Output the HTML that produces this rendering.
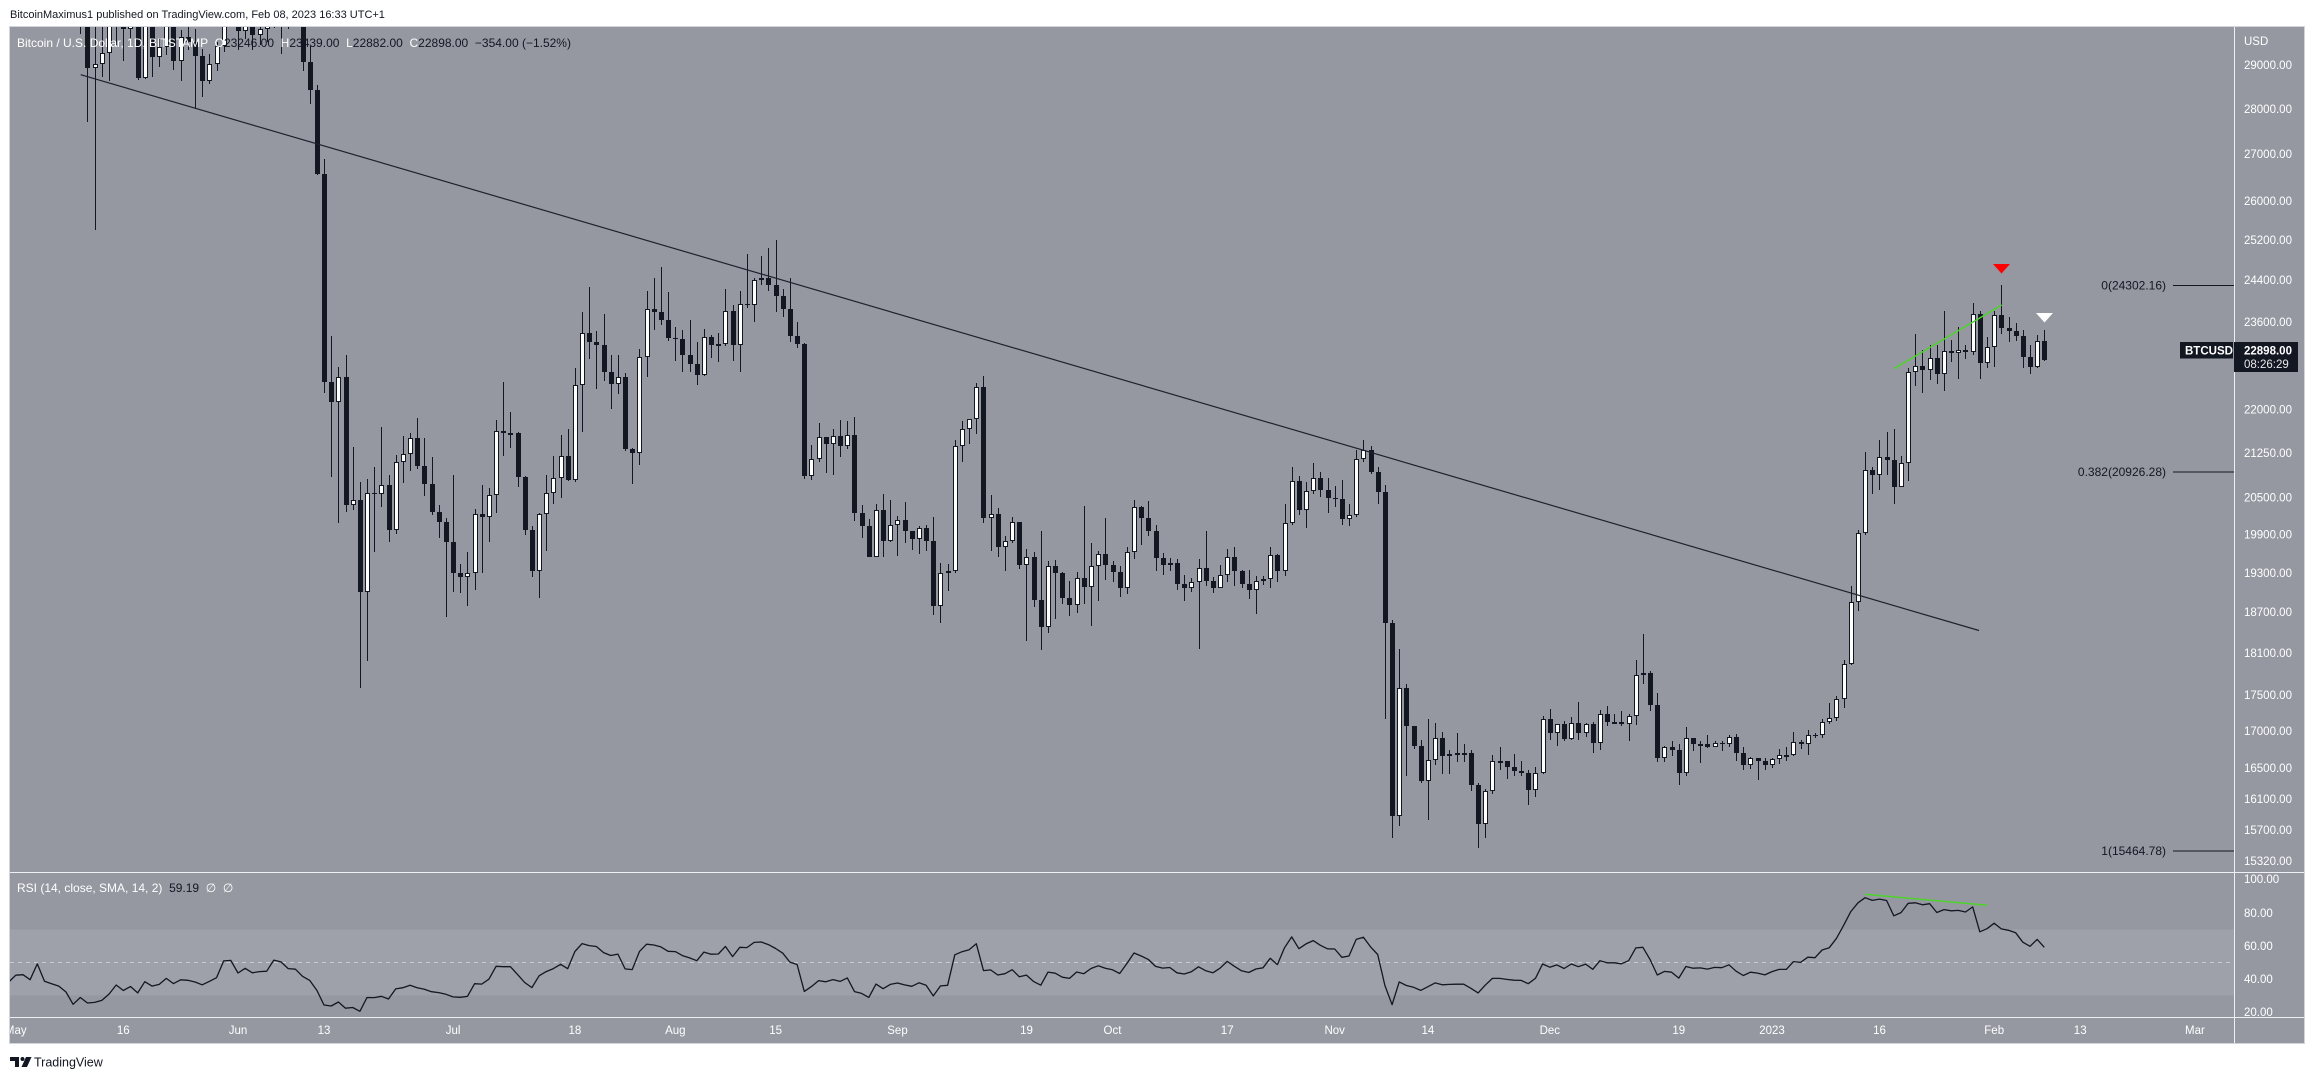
<!DOCTYPE html>
<html><head><meta charset="utf-8">
<style>
html,body{margin:0;padding:0;background:#fff;width:2314px;height:1079px;overflow:hidden;}
svg{position:absolute;left:0;top:0;font-family:"Liberation Sans",sans-serif;}
</style></head>
<body>
<svg id="s" width="2314" height="1079" viewBox="0 0 2314 1079" xmlns="http://www.w3.org/2000/svg">
<defs>
<clipPath id="cp1"><rect x="10" y="27" width="2224" height="845"/></clipPath>
<clipPath id="cp2"><rect x="10" y="873" width="2224" height="144"/></clipPath>
<clipPath id="cp3"><rect x="10" y="1018" width="2224" height="25"/></clipPath>
<clipPath id="cp4"><rect x="2235" y="873" width="69" height="144"/></clipPath>
</defs>
<text x="10" y="18" font-size="11" fill="#131722">BitcoinMaximus1 published on TradingView.com, Feb 08, 2023 16:33 UTC+1</text>
<rect x="9.5" y="26.5" width="2295" height="1017" fill="#9598a1" stroke="#d1d4dc"/>
<rect x="10" y="929.5" width="2224" height="66" fill="#9ea1a9"/>
<line x1="10" y1="962.5" x2="2234" y2="962.5" stroke="#c9cbd1" stroke-dasharray="4 4"/>
<g id="cd" clip-path="url(#cp1)" shape-rendering="crispEdges"></g>
<g clip-path="url(#cp1)">
<line x1="80.7" y1="74.7" x2="1979" y2="630.5" stroke="#1e222d" stroke-width="1.2"/>
<line x1="1894" y1="368.7" x2="2001.7" y2="305" stroke="#4cd42a" stroke-width="1.5"/>
<polygon points="1993,264 2010,264 2001.5,273.5" fill="#ff0000"/>
<polygon points="2036,313 2053,313 2044.5,322.5" fill="#ffffff"/>
<line x1="2173" y1="285.5" x2="2234" y2="285.5" stroke="#131722" stroke-width="1"/>
<line x1="2173" y1="472" x2="2234" y2="472" stroke="#131722" stroke-width="1"/>
<line x1="2173" y1="851" x2="2234" y2="851" stroke="#131722" stroke-width="1"/>
</g>
<text x="2166" y="289.5" font-size="12" fill="#131722" text-anchor="end">0(24302.16)</text>
<text x="2166" y="476" font-size="12" fill="#131722" text-anchor="end">0.382(20926.28)</text>
<text x="2166" y="855" font-size="12" fill="#131722" text-anchor="end">1(15464.78)</text>
<g clip-path="url(#cp2)">
<polyline id="rsi" fill="none" stroke="#131722" stroke-width="1.3" stroke-linejoin="round" points=""/>
<line x1="1865" y1="894.3" x2="1987.3" y2="905.3" stroke="#4cd42a" stroke-width="1.5"/>
</g>
<line x1="10" y1="872.5" x2="2304" y2="872.5" stroke="#eef0f3"/>
<line x1="10" y1="1017.5" x2="2304" y2="1017.5" stroke="#eef0f3"/>
<line x1="2234.5" y1="27" x2="2234.5" y2="1043" stroke="#eef0f3"/>
<text x="17" y="47" font-size="12" fill="#ffffff" xml:space="preserve">Bitcoin / U.S. Dollar, 1D, BITSTAMP  O<tspan fill="#131722">23246.00</tspan>  H<tspan fill="#131722">23439.00</tspan>  L<tspan fill="#131722">22882.00</tspan>  C<tspan fill="#131722">22898.00</tspan>  <tspan fill="#131722">−354.00 (−1.52%)</tspan></text>
<text x="17" y="892" font-size="12" fill="#ffffff" xml:space="preserve">RSI (14, close, SMA, 14, 2)  <tspan fill="#131722">59.19</tspan>  ∅  ∅</text>
<g font-size="11.5" fill="#ffffff">
<text x="2244" y="45">USD</text>
<text x="2244" y="69">29000.00</text>
<text x="2244" y="113">28000.00</text>
<text x="2244" y="158">27000.00</text>
<text x="2244" y="205">26000.00</text>
<text x="2244" y="244">25200.00</text>
<text x="2244" y="284">24400.00</text>
<text x="2244" y="326">23600.00</text>
<text x="2244" y="413.5">22000.00</text>
<text x="2244" y="457">21250.00</text>
<text x="2244" y="501.5">20500.00</text>
<text x="2244" y="538.5">19900.00</text>
<text x="2244" y="577">19300.00</text>
<text x="2244" y="616">18700.00</text>
<text x="2244" y="657">18100.00</text>
<text x="2244" y="699">17500.00</text>
<text x="2244" y="735">17000.00</text>
<text x="2244" y="772">16500.00</text>
<text x="2244" y="803">16100.00</text>
<text x="2244" y="834">15700.00</text>
<text x="2244" y="865">15320.00</text>
</g>
<g font-size="11.5" fill="#ffffff" clip-path="url(#cp4)">
<text x="2244" y="883">100.00</text>
<text x="2244" y="917">80.00</text>
<text x="2244" y="950">60.00</text>
<text x="2244" y="983">40.00</text>
<text x="2244" y="1016">20.00</text>
</g>
<rect x="2180" y="342" width="53" height="16.5" fill="#131722"/>
<text x="2185" y="354.5" font-size="11.5" font-weight="bold" fill="#ffffff">BTCUSD</text>
<rect x="2234" y="342" width="64" height="30" fill="#131722"/>
<text x="2244" y="354.5" font-size="11.5" font-weight="bold" fill="#ffffff">22898.00</text>
<text x="2244" y="368" font-size="11.5" fill="#e6e7ea">08:26:29</text>
<g font-size="11.5" fill="#ffffff" text-anchor="middle" clip-path="url(#cp3)">
<text x="15.8" y="1034">May</text>
<text x="123.3" y="1034">16</text>
<text x="238" y="1034">Jun</text>
<text x="324" y="1034">13</text>
<text x="453.1" y="1034">Jul</text>
<text x="574.9" y="1034">18</text>
<text x="675.3" y="1034">Aug</text>
<text x="775.6" y="1034">15</text>
<text x="897.5" y="1034">Sep</text>
<text x="1026.5" y="1034">19</text>
<text x="1112.5" y="1034">Oct</text>
<text x="1227.2" y="1034">17</text>
<text x="1334.7" y="1034">Nov</text>
<text x="1427.9" y="1034">14</text>
<text x="1549.8" y="1034">Dec</text>
<text x="1678.8" y="1034">19</text>
<text x="1772" y="1034">2023</text>
<text x="1879.5" y="1034">16</text>
<text x="1994.2" y="1034">Feb</text>
<text x="2080.2" y="1034">13</text>
<text x="2194.9" y="1034">Mar</text>
</g>
<g fill="#131722">
<path d="M10 1057h9v10h-4v-6h-5z"/>
<circle cx="22.5" cy="1059" r="2"/>
<path d="M26 1057h5.5l-4.5 10h-5.5z"/>
</g>
<text x="34" y="1066.5" font-size="12.5" fill="#131722">TradingView</text>
</svg>
<script>
(function(){
var NS='http://www.w3.org/2000/svg',DK='#131722';
var pre=[40900,41760,42200,41260,41000,42360,42890,43960,44330,44520,46820,47130,47450,47060,45530,
46280,45810,46410,46580,45500,43170,43440,42250,42750,42160,39530,40080,41150,39940,40550,40400,39700,40800,41500,41370,40480,39710,39470,39450,40430,38110,39240,39740,38600,37640];
var D=[
[38650,37390,38470],[39150,38050,38530],[38640,37510,37720],[39930,37700,39690],[39840,35580,36550],[36640,35260,36010],[36100,34770,35470],[35500,33710,34060],[34250,30030,30080],[32650,29730,31000],
[32180,27700,28940],[30030,25400,29030],[31000,28730,29280],[30330,28620,30080],[31420,29480,31300],[31300,29090,29860],[30780,29460,30410],[30660,28660,28700],[30500,28680,30300],[30750,28730,29190],
[29620,28950,29430],[30470,29240,30300],[30660,28880,29100],[29830,28640,29650],[30200,29340,29540],[29860,28000,29200],[29370,28260,28620],[29250,28560,29020],[29540,28870,29450],[32200,29300,31720],
[32400,31220,31800],
[31970,29340,29800],[30660,29600,30460],[30660,29350,29700],[29970,29480,29860],[30160,29530,29910],[31760,29880,31370],[31550,29250,31130],[31330,29850,30200],[30700,29970,30110],[30350,28860,29080],
[29440,28100,28420],[28550,26560,26580],[26900,22300,22490],[23330,20840,22130],[22760,20080,22580],[22980,20270,20380],[21350,20300,20460],[20760,17590,19000],[20800,17980,20580],[21000,19630,20560],
[21700,20350,20710],[20870,19780,19970],[21210,19910,21090],[21530,20740,21230],[21590,20940,21500],[21850,20980,21030],[21500,20530,20730],[21170,20220,20270],[20380,19850,20100],[20160,18630,19790],
[20870,19000,19300],[19430,18990,19240],[19630,18790,19300],[20320,19040,20230],[20700,19290,20190],[20650,19780,20550],[21820,20250,21630],[22490,21200,21590],[21950,21330,21590],[21600,20670,20840],
[20860,19890,19970],[20040,19230,19330],[20250,18910,20230],[20880,19640,20580],[21190,20400,20830],[21560,20500,21190],[21660,20780,20790],[22750,20760,22430],[23780,21600,23400],[24280,22900,23230],
[23430,22360,23160],[23750,22500,22680],[22980,22000,22450],[22980,22280,22580],[22660,21280,21310],[21330,20720,21250],[23100,21040,22950],[24200,22580,23850],[24450,23450,23790],[24660,23550,23640],
[24180,23240,23300],
[23500,22870,23280],[23450,22680,22990],[23640,22680,22820],[23220,22440,22620],[23470,22590,23310],[23350,22920,23170],[23400,22850,23190],[24240,23150,23800],[23920,22880,23160],[24200,22680,23950],
[24920,23860,23930],[24450,23600,24400],[24880,24300,24440],[25050,24200,24300],[25200,23780,24100],[24230,23690,23850],[24440,23220,23340],[23590,23110,23190],[23200,20800,20850],[21390,20790,21140],
[21770,21100,21520],[21520,20900,21400],[21650,20880,21530],[21810,21180,21370],[21800,21310,21560],[21870,20120,20250],[20380,19850,20040],[20150,19540,19550],[20400,19550,20290],[20560,19550,19800],
[20460,19790,20050],
[20200,19560,20130],[20430,19760,19950],[19960,19660,19830],[20040,19600,20000],[20050,19640,19800],[20180,18650,18790],[19450,18540,19290],[19440,19020,19320],[21470,19300,21360],[21790,21100,21650],
[21840,21400,21830],[22470,21570,22400],[22590,20080,20170],[20540,19640,20230],[20330,19540,19700],[19880,19330,19800],[20180,19760,20110],[20080,19360,19420],[19670,18270,19540],[19630,18770,18880],
[19950,18140,18480],[19480,18390,19400],[19500,18600,19300],[19310,18820,18920],[19180,18640,18800],[19310,18690,19220],[20360,18830,19080],[19760,18490,19410],[19640,18870,19590],[20170,19190,19420],
[19480,19160,19310],[19400,18930,19060],[19710,18970,19620],[20460,19510,20340],[20360,19740,20160],[20440,19870,19960],[20060,19330,19530],[19610,19260,19420],[19530,19330,19450],[19520,19030,19130],
[19260,18870,19060],[19220,19010,19160],[19510,18150,19380],[19950,19100,19180],[19230,18990,19070],[19420,19070,19260],[19670,19160,19550],[19700,19100,19330],[19350,19070,19120],[19350,18900,19040],
[19250,18670,19170],[19250,19110,19210],[19700,19070,19570],[19600,19160,19330],[20400,19250,20090],[21000,20060,20770],[20860,20210,20290],[20750,20000,20600],[21080,20560,20820],[20920,20510,20630],
[20830,20240,20490],
[20690,20340,20480],[20790,20060,20150],[20390,20040,20210],[21300,20180,21150],[21470,21090,21300],[21370,20890,20920],[21000,20400,20590],[20700,17160,18540],[18590,15600,15880],[18150,15750,17590],
[17660,16400,17070],[17070,16760,16800],[16880,16300,16330],[17170,15830,16610],[17110,16540,16900],[16990,16430,16660],[16740,16420,16690],[16970,16580,16700],[16820,16580,16700],[16740,16200,16280],
[16310,15480,15780],[16230,15600,16200],[16670,16160,16600],[16780,16480,16600],[16600,16360,16520],[16690,16400,16460],[16600,16400,16440],[16480,16020,16210],[16520,16120,16440],[17210,16430,17160],
[17300,16880,16970],[17100,16800,17090],[17140,16860,16890],[17190,16880,17110],[17400,16880,16970],[17110,16920,17090],[17130,16700,16840],[17290,16740,17230],[17350,17070,17130],[17230,17090,17130],
[17270,17070,17090],[17240,16870,17210],[18000,17080,17780],[18380,17660,17810],[17840,17280,17360],[17530,16580,16630],[16800,16580,16780],[16870,16660,16740],[16820,16280,16440],[17050,16400,16900],
[16910,16730,16820],[16870,16570,16830],[16950,16770,16780],[16870,16780,16840],[16860,16730,16830],[16940,16790,16920],[16960,16600,16700],[16780,16470,16540],[16650,16490,16630],[16640,16340,16600],
[16640,16480,16540],
[16630,16500,16620],[16760,16550,16670],[16780,16600,16670],[16990,16660,16850],[16880,16760,16830],[17010,16680,16950],[16970,16910,16940],[17170,16910,17120],[17390,17100,17180],[17490,17140,17440],
[18000,17310,17940],[19100,17920,18850],[19970,18710,19930],[21260,19890,20960],[21000,20560,20880],[21460,20620,21170],[21610,20870,21130],[21650,20400,20680],[21190,20670,21070],[22750,20780,22670],
[23370,22420,22780],[23070,22300,22710],[23170,22520,22930],[23170,22450,22630],[23800,22330,23060],[23270,22860,23020],[23500,22550,23080],[23170,22910,23030],[23960,22990,23750],[23800,22550,22830],
[23320,22740,23130],
[23800,22760,23730],[24300,23370,23490],[23700,23230,23430],[23580,23250,23330],[23440,22750,22940],[23160,22630,22760],[23360,22750,23250],[23440,22880,22898]
];
var L29=Math.log(29000);
function Y(p){return 65+1247*(L29-Math.log(p));}
function X(d){return 15.8+d*7.168;}
var g=document.getElementById('cd');
function R(x,y,w,h,f){var r=document.createElementNS(NS,'rect');r.setAttribute('x',x);r.setAttribute('y',y);r.setAttribute('width',w);r.setAttribute('height',h);r.setAttribute('fill',f);g.appendChild(r);}
var prev=pre[pre.length-1];
for(var i=0;i<D.length;i++){
 var H=D[i][0],Lo=D[i][1],C=D[i][2];
 var O=(i==D.length-1)?23246:prev; prev=C;
 var cx=Math.round(X(i));
 var yh=Math.round(Y(H)),yl=Math.round(Y(Lo));
 R(cx,yh,1,Math.max(1,yl-yh),DK);
 var yt=Math.round(Y(Math.max(O,C))),yb=Math.round(Y(Math.min(O,C)));
 var h=Math.max(1,yb-yt);
 if(C>=O){
   if(h<3){R(cx-2,yt,5,Math.max(h,2),DK);}
   else{R(cx-2,yt,5,h,DK);R(cx-1,yt+1,3,h-2,'#ffffff');}
 } else R(cx-2,yt,5,h,DK);
}
var all=pre.concat(D.map(function(c){return c[2];}));
var ag=0,al=0,rsi=[];
for(var k=1;k<all.length;k++){
 var ch=all[k]-all[k-1],gn=Math.max(ch,0),ls=Math.max(-ch,0);
 if(k<=14){ag+=gn/14;al+=ls/14;if(k==14)rsi[k]=100-100/(1+ag/al);}
 else{ag=(ag*13+gn)/14;al=(al*13+ls)/14;rsi[k]=100-100/(1+ag/al);}
}
var pts=[],off=pre.length;
for(var k=off-2;k<all.length;k++){
 if(rsi[k]===undefined)continue;
 var d=k-off;
 pts.push(X(d).toFixed(1)+','+(962.5-(rsi[k]-50)*1.65).toFixed(1));
}
document.getElementById('rsi').setAttribute('points',pts.join(' '));
})();
</script>
</body></html>
